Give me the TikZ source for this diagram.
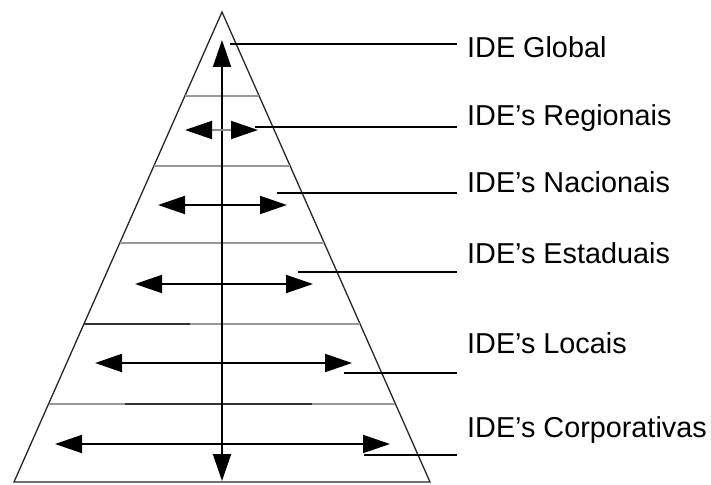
\documentclass[tikz,border=0pt]{standalone}
\usepackage{fontspec}
\setmainfont{Liberation Sans}
\usetikzlibrary{arrows.meta,calc}
\begin{document}
\begin{tikzpicture}[x=1pt,y=-1pt,
  edge/.style={line width=1.3pt, black!85},
  divider/.style={line width=1.6pt, black!40},
  darkdiv/.style={line width=1.6pt, black!80},
  dblarrow/.style={line width=1.9pt, {Triangle[length=27pt,width=18pt,color=black]}-{Triangle[length=27pt,width=18pt,color=black]}},
  leader/.style={line width=1.6pt},
  lbl/.style={anchor=base west, inner sep=0pt, font=\fontsize{28.8}{30}\selectfont}]
\useasboundingbox (0,0) rectangle (711,484);
% pyramid outline
\coordinate (apex) at (222,12);
\coordinate (bl) at (14,482);
\coordinate (br) at (430,482);
\draw[edge] (bl) -- (apex) -- (br) -- cycle;
% level dividers
\foreach \t/\n in {0.1787/a,0.3277/b,0.4915/c,0.6638/d,0.834/e}{
  \coordinate (dl\n) at ($(apex)!\t!(bl)$);
  \coordinate (dr\n) at ($(apex)!\t!(br)$);
  \draw[divider] (dl\n) -- (dr\n);
}
\draw[darkdiv] (dld) -- (190,324);
\draw[darkdiv] (125,404) -- (312,404);
% vertical arrow
\coordinate (vtop) at (222,40);
\coordinate (vbot) at (222,481);
\draw[dblarrow] (vbot) -- (vtop);
% horizontal double arrows
\coordinate (h2l) at (185,130); \coordinate (h2r) at (258,130);
\coordinate (h3l) at (158,205); \coordinate (h3r) at (287,205);
\coordinate (h4l) at (135,284); \coordinate (h4r) at (313,284);
\coordinate (h5l) at (95,363);  \coordinate (h5r) at (352,363);
\coordinate (h6l) at (55,444);  \coordinate (h6r) at (390,444);
\draw[dblarrow, draw=black!45] (h2l) -- (h2r);
\draw[dblarrow] (h3l) -- (h3r);
\draw[dblarrow] (h4l) -- (h4r);
\draw[dblarrow] (h5l) -- (h5r);
\draw[dblarrow] (h6l) -- (h6r);
% labels
\node[lbl] (global) at (467,58)  {IDE Global};
\node[lbl] (regio)  at (467,125) {IDE’s Regionais};
\node[lbl] (nacio)  at (467,192) {IDE’s Nacionais};
\node[lbl] (estad)  at (467,263) {IDE’s Estaduais};
\node[lbl] (locai)  at (467,353) {IDE’s Locais};
\node[lbl] (corpo)  at (467,437) {IDE’s Corporativas};
% leader lines
\coordinate (s1) at (230,44);  \coordinate (e1) at (457,44);
\coordinate (s2) at (255,127); \coordinate (e2) at (457,127);
\coordinate (s3) at (277,193); \coordinate (e3) at (457,193);
\coordinate (s4) at (298,272); \coordinate (e4) at (457,272);
\coordinate (s5) at (344,373); \coordinate (e5) at (457,373);
\coordinate (s6) at (364,455); \coordinate (e6) at (457,455);
\foreach \i in {1,...,6}{\draw[leader] (s\i) -- (e\i);}
\end{tikzpicture}
\end{document}
